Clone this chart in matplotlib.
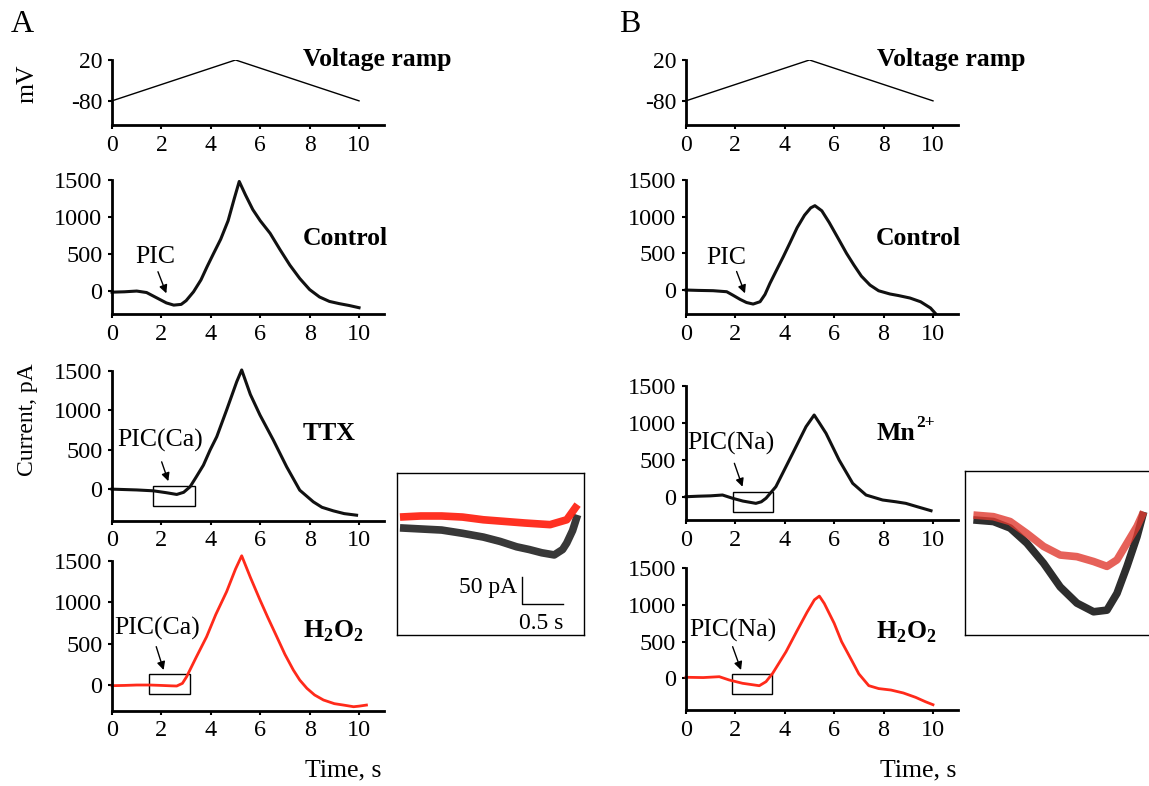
import matplotlib
matplotlib.use("Agg")
import matplotlib.pyplot as plt
import numpy as np

plt.rcParams['font.family'] = ['Liberation Serif', 'DejaVu Serif']
plt.rcParams['mathtext.fontset'] = 'custom'
plt.rcParams['mathtext.rm'] = 'Liberation Serif'
plt.rcParams['mathtext.bf'] = 'Liberation Serif:bold'
plt.rcParams['axes.unicode_minus'] = False

# ---------------- data ----------------
ramp_t = [0, 5, 10]
ramp_mv = [-80, 20, -80]

ctrlA_t = [0.0, 0.5, 1.0, 1.4, 1.8, 2.2, 2.5, 2.8, 3.0, 3.3, 3.6, 3.85, 4.1, 4.4, 4.7, 4.95, 5.15,
           5.4, 5.7, 6.0, 6.4, 6.8, 7.2, 7.6, 8.0, 8.4, 8.8, 9.2, 9.6, 10.0]
ctrlA_i = [-15, -10, 0, -20, -90, -160, -190, -180, -130, -10, 150, 330, 500, 700, 950, 1250, 1480,
           1300, 1100, 950, 780, 560, 350, 170, 20, -80, -140, -170, -195, -225]

ttx_t = [0, 0.5, 1.0, 1.67, 2.2, 2.62, 2.9, 3.16, 3.4, 3.7, 3.97, 4.24, 4.64, 5.05, 5.25,
         5.6, 5.99, 6.53, 7.07, 7.6, 8.15, 8.5, 8.96, 9.4, 9.9]
ttx_i = [0, -5, -10, -21, -45, -67, -40, 30, 150, 304, 495, 664, 1003, 1362, 1510,
         1200, 939, 622, 283, -13, -161, -230, -275, -310, -330]

h2o2A_t = [0, 0.5, 1.0, 1.54, 2.0, 2.4, 2.62, 2.85, 3.02, 3.4, 3.83, 4.2, 4.64, 5.0, 5.25,
           5.6, 5.99, 6.3, 6.67, 7.0, 7.34, 7.6, 7.89, 8.2, 8.56, 9.0, 9.37, 9.78, 10.0, 10.3]
h2o2A_i = [-8, -5, 0, 0, -5, -10, -12, 20, 100, 330, 583, 850, 1127, 1400, 1560,
           1300, 1027, 820, 583, 370, 181, 60, -40, -120, -181, -225, -242, -262, -255, -242]

ctrlB_t = [0, 0.5, 1.1, 1.65, 1.9, 2.19, 2.45, 2.72, 3.0, 3.2, 3.4, 3.65, 3.94, 4.2, 4.5, 4.8,
           5.05, 5.22, 5.5, 5.8, 6.2, 6.5, 6.8, 7.1, 7.45, 7.8, 8.26, 8.6, 9.07, 9.5, 9.9, 10.1]
ctrlB_i = [0, -5, -9, -23, -70, -127, -170, -191, -159, -60, 91, 260, 454, 636, 850, 1020,
           1120, 1150, 1080, 920, 681, 500, 340, 190, 68, -10, -54, -75, -109, -160, -245, -320]

mn_t = [0, 0.5, 1.0, 1.48, 1.89, 2.3, 2.83, 3.05, 3.24, 3.64, 4.0, 4.32, 4.86, 5.19,
        5.4, 5.67, 6.2, 6.75, 7.29, 7.96, 8.5, 8.9, 9.4, 9.92]
mn_i = [8, 15, 20, 31, -13, -50, -81, -60, -13, 143, 380, 591, 949, 1106,
        1000, 860, 501, 188, 31, -36, -60, -81, -130, -180]

h2o2B_t = [0, 0.7, 1.35, 1.75, 2.29, 2.97, 3.24, 3.51, 4.05, 4.5, 4.9, 5.2, 5.4,
           5.6, 6.0, 6.3, 6.7, 7.0, 7.4, 7.8, 8.3, 8.8, 9.3, 9.7, 10.0]
h2o2B_i = [14, 10, 22, -23, -68, -101, -46, 68, 362, 650, 900, 1070, 1121,
           1020, 750, 500, 250, 60, -100, -140, -160, -200, -260, -320, -360]

# inset A (TTX black vs H2O2 red), time in s, current in pA (relative)
insA_t_blk = [0, 0.25, 0.5, 0.75, 1.0, 1.2, 1.4, 1.55, 1.7, 1.85, 1.95, 2.0, 2.07, 2.13]
insA_i_blk = [0, -2, -4, -10, -17, -25, -35, -40, -46, -50, -40, -28, -5, 24]
insA_t_red = [0, 0.25, 0.5, 0.75, 1.0, 1.25, 1.5, 1.8, 2.0, 2.13]
insA_i_red = [20, 22, 22, 20, 15, 12, 9, 6, 15, 43]

# inset B (Mn black vs H2O2 red)
insB_t = [0, 0.24, 0.44, 0.64, 0.84, 1.04, 1.24, 1.44, 1.60, 1.72, 1.84, 1.96, 2.04]
insB_i_blk = [0, -3, -15, -43, -80, -124, -154, -170, -167, -136, -86, -31, 15]
insB_i_red = [9, 6, -3, -25, -49, -65, -68, -77, -86, -74, -43, -12, 15]

# PIC boxes (t0, i0, t1, i1)
boxA_ttx = (1.67, -216, 3.36, 42)
boxA_h2o2 = (1.48, -112, 3.14, 133)
boxB_mn = (1.92, -194, 3.54, 75)
boxB_h2o2 = (1.86, -218, 3.50, 59)

BLACK = '#111111'
RED = '#ff2a1a'

fig = plt.figure(figsize=(11.49, 7.86), dpi=100)

xl = 0.09748
xr = 0.5970
w = 0.2365

def style(ax, ylim, yticks, tsize=17.5):
    ax.set_xlim(0, 11)
    ax.set_ylim(*ylim)
    ax.set_xticks([0, 2, 4, 6, 8, 10])
    ax.set_yticks(yticks)
    for s in ['top', 'right']:
        ax.spines[s].set_visible(False)
    for s in ['left', 'bottom']:
        ax.spines[s].set_linewidth(2.0)
        ax.spines[s].set_color('black')
    ax.tick_params(direction='out', length=3, width=1.5, labelsize=tsize, pad=4)
    ax.patch.set_alpha(0)

def ramp(ax):
    style(ax, (-139, 20), [-80, 20], tsize=17)
    ax.plot(ramp_t, ramp_mv, color='black', lw=1.0)
    ax.text(7.73, 20, 'Voltage ramp', fontsize=18.5, fontweight='bold', ha='left', va='center')

# Panel A
axAr = fig.add_axes([xl, 0.8410, w, 0.0827]); ramp(axAr)
axAc = fig.add_axes([xl, 0.6005, w, 0.1705])
axAt = fig.add_axes([xl, 0.3375, w, 0.1908])
axAh = fig.add_axes([xl, 0.0958, w, 0.1908])
# Panel B
axBr = fig.add_axes([xr, 0.8410, w, 0.0827]); ramp(axBr)
axBc = fig.add_axes([xr, 0.6001, w, 0.1709])
axBm = fig.add_axes([xr, 0.3384, w, 0.1709])
axBh = fig.add_axes([xr, 0.0967, w, 0.1803])

yt = [0, 500, 1000, 1500]
style(axAc, (-310, 1500), yt)
style(axAt, (-400, 1500), yt)
style(axAh, (-310, 1500), yt)
style(axBc, (-331, 1500), yt)
style(axBm, (-305, 1500), yt)
style(axBh, (-432, 1500), yt)

axAc.plot(ctrlA_t, ctrlA_i, color=BLACK, lw=2.2, clip_on=False)
axAt.plot(ttx_t, ttx_i, color=BLACK, lw=2.2, clip_on=False)
axAh.plot(h2o2A_t, h2o2A_i, color=RED, lw=2.0, clip_on=False)
axBc.plot(ctrlB_t, ctrlB_i, color=BLACK, lw=2.2, clip_on=False)
axBm.plot(mn_t, mn_i, color=BLACK, lw=2.2, clip_on=False)
axBh.plot(h2o2B_t, h2o2B_i, color=RED, lw=2.0, clip_on=False)

lab = dict(fontsize=18.5, fontweight='bold', ha='left', va='center')
axAc.text(7.73, 716, 'Control', **lab)
axAt.text(7.73, 711, 'TTX', **lab)
axAh.text(7.73, 644, r'H$_\mathbf{2}$O$_\mathbf{2}$', **lab)
axBc.text(7.70, 708, 'Control', **lab)
mn_txt = axBm.text(7.70, 860, 'Mn', **lab)
axBm.annotate('2+', xy=(1.0, 0.62), xycoords=mn_txt, xytext=(1, 0),
              textcoords='offset points', fontsize=12.5, fontweight='bold',
              ha='left', va='bottom')
axBh.text(7.70, 631, r'H$_\mathbf{2}$O$_\mathbf{2}$', **lab)

def pic(ax, txt, txy, tail, head):
    ax.text(txy[0], txy[1], txt, fontsize=18.5, ha='center', va='center')
    ax.annotate('', xy=head, xytext=tail,
                arrowprops=dict(arrowstyle='-|>', color='black', lw=1.0,
                                mutation_scale=12, shrinkA=0, shrinkB=0))

def box(ax, b):
    t0, i0, t1, i1 = b
    ax.add_patch(plt.Rectangle((t0, i0), t1 - t0, i1 - i0, fill=False,
                               edgecolor='black', lw=1.0))

pic(axAc, 'PIC', (1.75, 455), (1.86, 261), (2.2, -31))
pic(axAt, 'PIC(Ca)', (1.94, 622), (2.01, 346), (2.28, 101))
pic(axAh, 'PIC(Ca)', (1.82, 685), (1.79, 463), (2.09, 181))
pic(axBc, 'PIC', (1.65, 440), (2.05, 253), (2.39, -45))
pic(axBm, 'PIC(Na)', (1.82, 726), (1.96, 457), (2.29, 142))
pic(axBh, 'PIC(Na)', (1.89, 658), (1.89, 431), (2.23, 113))
box(axAt, boxA_ttx); box(axAh, boxA_h2o2)
box(axBm, boxB_mn); box(axBh, boxB_h2o2)

# Insets
insA = fig.add_axes([0.3455, 0.1921, 0.1627, 0.2065])
insA.set_xlim(-0.036, 2.206); insA.set_ylim(-198, 102)
insA.plot(insA_t_blk, insA_i_blk, color='#222222', lw=5.5, alpha=0.9, solid_capstyle='butt')
insA.plot(insA_t_red, insA_i_red, color='#ff1a0a', lw=5.5, alpha=0.9, solid_capstyle='butt')
insA.plot([1.459, 1.459, 1.959], [-90.7, -140.7, -140.7], color='black', lw=1.0)
insA.text(1.40, -111, '50 pA', fontsize=17, ha='right', va='center')
insA.text(1.69, -176, '0.5 s', fontsize=17, ha='center', va='center')
insA.set_xticks([]); insA.set_yticks([])
for s in insA.spines.values():
    s.set_linewidth(1.0)

insB = fig.add_axes([0.8399, 0.1921, 0.17, 0.209])
insB.set_xlim(-0.1, 2.24); insB.set_ylim(-213, 91)
insB.plot(insB_t, insB_i_blk, color='#222222', lw=5.5, alpha=0.95, solid_capstyle='butt')
insB.plot(insB_t, insB_i_red, color='#e03a30', lw=5.5, alpha=0.8, solid_capstyle='butt')
insB.set_xticks([]); insB.set_yticks([])
for s in insB.spines.values():
    s.set_linewidth(1.0)

# Figure texts
fig.text(22 / 1149, 1 - 24 / 786, 'A', fontsize=23, ha='center', va='center')
fig.text(630 / 1149, 1 - 24 / 786, 'B', fontsize=23, ha='center', va='center')
fig.text(28 / 1149, 1 - 84 / 786, 'mV', fontsize=18.5, rotation=90, ha='center', va='center')
fig.text(28 / 1149, 1 - 420 / 786, 'Current, pA', fontsize=17, rotation=90, ha='center', va='center')
fig.text(343 / 1149, 1 - 770 / 786, 'Time, s', fontsize=18.5, ha='center', va='center')
fig.text(918 / 1149, 1 - 770 / 786, 'Time, s', fontsize=18.5, ha='center', va='center')

fig.savefig('out.png', dpi=100)
